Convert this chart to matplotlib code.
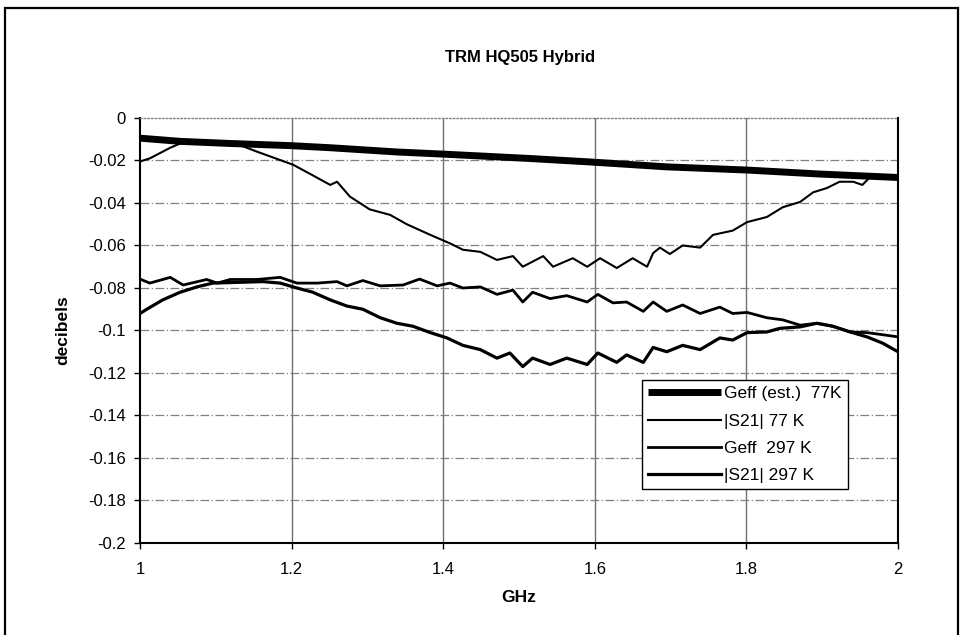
import matplotlib.pyplot as plt
from matplotlib.patches import Rectangle
from matplotlib.ticker import FixedLocator, FuncFormatter

plt.rcParams['font.family'] = ['Liberation Sans', 'DejaVu Sans']
plt.rcParams['axes.unicode_minus'] = False

# Geff (est.) 77K - thick line
geff77_x = [1.000, 1.053, 1.119, 1.198, 1.251, 1.339, 1.400, 1.511, 1.594, 1.695, 1.801, 1.898, 2.000]
geff77_y = [-0.0095, -0.011, -0.012, -0.013, -0.014, -0.016, -0.017, -0.019, -0.0207, -0.023, -0.0245, -0.0264, -0.028]

# |S21| 77 K
s21_77_x = [1.000, 1.013, 1.040, 1.053, 1.079, 1.119, 1.154, 1.185, 1.202, 1.228, 1.251, 1.260, 1.277,
            1.303, 1.330, 1.352, 1.383, 1.409, 1.426, 1.449, 1.471, 1.492, 1.505, 1.532, 1.545, 1.571,
            1.590, 1.607, 1.629, 1.650, 1.669, 1.677, 1.686, 1.699, 1.716, 1.739, 1.756, 1.782, 1.801,
            1.827, 1.848, 1.871, 1.888, 1.906, 1.923, 1.941, 1.953, 1.960]
s21_77_y = [-0.0205, -0.019, -0.014, -0.012, -0.0115, -0.011, -0.0158, -0.0198, -0.022, -0.027, -0.0315, -0.030, -0.037,
            -0.043, -0.0456, -0.050, -0.055, -0.059, -0.062, -0.063, -0.0668, -0.065, -0.070, -0.065, -0.070, -0.066,
            -0.070, -0.066, -0.0706, -0.066, -0.070, -0.0636, -0.061, -0.064, -0.060, -0.061, -0.055, -0.053, -0.049,
            -0.0466, -0.042, -0.0395, -0.035, -0.033, -0.030, -0.030, -0.0315, -0.029]

# Geff 297 K
geff297_x = [1.000, 1.013, 1.040, 1.057, 1.088, 1.102, 1.119, 1.154, 1.185, 1.207, 1.234, 1.260, 1.273,
             1.294, 1.317, 1.347, 1.369, 1.392, 1.409, 1.426, 1.449, 1.471, 1.492, 1.505, 1.518, 1.541,
             1.563, 1.590, 1.604, 1.624, 1.642, 1.664, 1.677, 1.695, 1.716, 1.739, 1.765, 1.782, 1.801,
             1.827, 1.848, 1.871, 1.893, 1.914, 1.937, 1.959, 1.980, 2.000]
geff297_y = [-0.0758, -0.0777, -0.075, -0.0786, -0.076, -0.0777, -0.076, -0.076, -0.075, -0.0777, -0.0777, -0.077, -0.079,
             -0.0765, -0.079, -0.0786, -0.0758, -0.079, -0.0777, -0.080, -0.0795, -0.083, -0.081, -0.0866, -0.082, -0.085,
             -0.0836, -0.0866, -0.083, -0.087, -0.0866, -0.091, -0.0866, -0.091, -0.088, -0.092, -0.089, -0.092, -0.0915,
             -0.094, -0.095, -0.0975, -0.0966, -0.098, -0.1007, -0.101, -0.102, -0.103]

# |S21| 297 K
s21_297_x = [1.000, 1.009, 1.030, 1.053, 1.075, 1.096, 1.162, 1.185, 1.207, 1.228, 1.251, 1.273, 1.294,
             1.317, 1.339, 1.360, 1.383, 1.405, 1.426, 1.449, 1.471, 1.488, 1.505, 1.518, 1.541, 1.563,
             1.590, 1.604, 1.629, 1.642, 1.664, 1.677, 1.695, 1.716, 1.739, 1.765, 1.782, 1.801, 1.827,
             1.844, 1.871, 1.893, 1.914, 1.937, 1.959, 1.980, 2.000]
s21_297_y = [-0.092, -0.090, -0.0856, -0.082, -0.0795, -0.0777, -0.077, -0.0777, -0.080, -0.082, -0.0856, -0.0885, -0.090,
             -0.094, -0.0966, -0.098, -0.101, -0.1035, -0.107, -0.109, -0.113, -0.1106, -0.117, -0.113, -0.116, -0.113,
             -0.116, -0.1106, -0.115, -0.1115, -0.115, -0.108, -0.110, -0.107, -0.109, -0.1035, -0.1045, -0.101, -0.1007,
             -0.099, -0.0983, -0.0966, -0.098, -0.1007, -0.103, -0.106, -0.110]

x_ticks = [1.0, 1.2, 1.4, 1.6, 1.8, 2.0]
y_ticks = [0, -0.02, -0.04, -0.06, -0.08, -0.1, -0.12, -0.14, -0.16, -0.18, -0.2]

fig = plt.figure(figsize=(9.64, 6.35), dpi=100)
ax = fig.add_axes([0.1452, 0.1449, 0.7863, 0.6693])

# outer chart frame
fig.patches.append(Rectangle((0.005, -0.02), 0.9888, 1.007, transform=fig.transFigure,
                             fill=False, edgecolor='black', linewidth=1.6))

ax.plot(geff77_x, geff77_y, color='black', lw=5.0, solid_capstyle='butt', label='Geff (est.)  77K', zorder=5)
ax.plot(s21_77_x, s21_77_y, color='black', lw=1.5, label='|S21| 77 K', zorder=4)
ax.plot(geff297_x, geff297_y, color='black', lw=2.0, label='Geff  297 K', zorder=4)
ax.plot(s21_297_x, s21_297_y, color='black', lw=2.3, label='|S21| 297 K', zorder=4)

ax.set_xlim(1, 2)
ax.set_ylim(-0.2, 0)
ax.xaxis.set_major_locator(FixedLocator(x_ticks))
ax.yaxis.set_major_locator(FixedLocator(y_ticks))
ax.xaxis.set_major_formatter(FuncFormatter(lambda v, p: '%g' % v))
ax.yaxis.set_major_formatter(FuncFormatter(lambda v, p: '%g' % v))

for v in x_ticks[1:-1]:
    ax.axvline(v, color='#707070', lw=1.0, zorder=1)
for v in y_ticks[1:-1]:
    ax.axhline(v, color='#808080', lw=0.9, linestyle=(0, (7, 2, 1, 2)), zorder=1)

ax.tick_params(direction='out', length=4, width=1, labelsize=12, colors='black', pad=6)
ax.tick_params(axis='x', pad=10)
for s in ['left', 'bottom', 'right']:
    ax.spines[s].set_linewidth(1.5)
    ax.spines[s].set_color('black')
ax.spines['top'].set_color('#808080')
ax.spines['top'].set_linestyle(':')
ax.spines['top'].set_linewidth(1.0)

ax.set_xlabel('GHz', fontsize=12.5, fontweight='bold', labelpad=9)
ax.set_ylabel('decibels', fontsize=12.5, fontweight='bold', labelpad=13)
fig.text(0.539, 0.910, 'TRM HQ505 Hybrid', fontsize=12, fontweight='bold', ha='center', va='center')

leg = ax.legend(loc='upper right', bbox_to_anchor=(0.934, 0.383), fontsize=12.5, frameon=True,
                fancybox=False, edgecolor='black', framealpha=1, handlelength=4.2, handletextpad=0.2,
                borderpad=0.35, labelspacing=0.7, borderaxespad=0)
leg.get_frame().set_linewidth(1.0)

fig.savefig('out.png', dpi=100)
